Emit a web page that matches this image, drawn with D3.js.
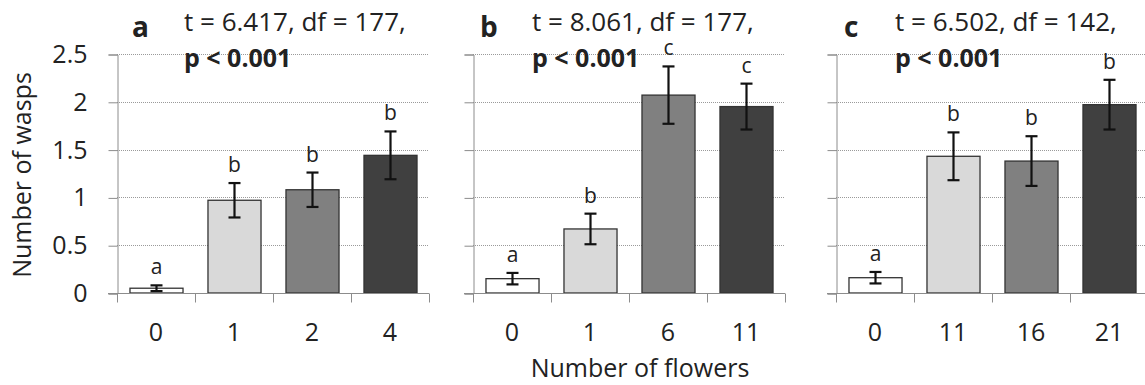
<!DOCTYPE html>
<html>
<head>
<meta charset="utf-8">
<script src="https://cdn.jsdelivr.net/npm/d3@7"></script>
<style>
body { margin: 0; background: #fff; }
text { font-family: "Open Sans", "Noto Sans", sans-serif; fill: #222; }
</style>
</head>
<body>
<script>
// data
var panelIds = ["a", "b", "c"];
var stats = ["t = 6.417, df = 177,", "t = 8.061, df = 177,", "t = 6.502, df = 142,"];
var categories = [
	["0", "1", "2", "4"],
	["0", "1", "6", "11"],
	["0", "11", "16", "21"]
];
var means = [
	[0.05, 0.97, 1.08, 1.44],
	[0.15, 0.67, 2.07, 1.95],
	[0.16, 1.43, 1.38, 1.97]
];
var errors = [
	[0.03, 0.18, 0.18, 0.25],
	[0.06, 0.16, 0.30, 0.24],
	[0.06, 0.25, 0.26, 0.26]
];
var letters = [
	["a", "b", "b", "b"],
	["a", "b", "c", "c"],
	["a", "b", "b", "b"]
];
var yTicks = [0, 0.5, 1, 1.5, 2, 2.5];
var barColors = ["#ffffff", "#d9d9d9", "#808080", "#404040"];

var width = 1145, height = 385;
var top0 = 54, bottom0 = 293;
var panelLeft = [117, 473, 836];
var panelW = 312;
var titleDx = [15, 7, 8];
var statsDx = [67, 59, 59];
var fs = "25px";

var svg = d3.select("body").append("svg")
	.attr("width", width)
	.attr("height", height);

var y = d3.scaleLinear().domain([0, 2.5]).range([bottom0, top0]);

panelIds.forEach(function(id, p) {
	var x0 = panelLeft[p];
	var x = d3.scaleBand()
		.domain(categories[p])
		.range([x0, x0 + panelW])
		.paddingInner(0.32)
		.paddingOuter(0.16);

	var g = svg.append("g");

	// dotted gridlines
	g.selectAll(".grid")
		.data(yTicks.slice(1))
		.enter().append("line")
		.attr("x1", x0).attr("x2", x0 + panelW)
		.attr("y1", function(d) { return Math.round(y(d)) + 0.5; })
		.attr("y2", function(d) { return Math.round(y(d)) + 0.5; })
		.attr("stroke", "#9a9a9a")
		.attr("stroke-width", 1)
		.attr("stroke-dasharray", "1,1");

	// y axis
	var yAxis = d3.axisLeft(y).tickValues(yTicks).tickSize(9).tickPadding(21)
		.tickFormat(p == 0 ? d3.format("") : "");
	var ya = g.append("g")
		.attr("transform", "translate(" + (x0 + 0.5) + ",0.5)")
		.call(yAxis);
	ya.selectAll("path, line").attr("stroke", "#8c8c8c");
	ya.selectAll("text").style("font-size", fs).attr("fill", "#222");

	// bars
	g.selectAll(".bar")
		.data(means[p])
		.enter().append("rect")
		.attr("x", function(d, i) { return x(categories[p][i]) + 0.5; })
		.attr("y", function(d) { return y(d); })
		.attr("width", x.bandwidth())
		.attr("height", function(d) { return bottom0 - y(d); })
		.attr("fill", function(d, i) { return barColors[i]; })
		.attr("stroke", "#333")
		.attr("stroke-width", 1.3);

	// x axis
	var xLin = d3.scaleLinear().domain([0, 4]).range([x0, x0 + panelW]);
	var xa = g.append("g")
		.attr("transform", "translate(0," + (bottom0 + 0.5) + ")");
	xa.append("line")
		.attr("x1", x0 - 9).attr("x2", x0 + panelW)
		.attr("stroke", "#8c8c8c");
	xa.selectAll(".xt")
		.data([0, 1, 2, 3, 4])
		.enter().append("line")
		.attr("x1", function(d) { return Math.round(xLin(d)) + 0.5; })
		.attr("x2", function(d) { return Math.round(xLin(d)) + 0.5; })
		.attr("y1", 0).attr("y2", 9)
		.attr("stroke", "#8c8c8c");
	xa.selectAll(".xl")
		.data(categories[p])
		.enter().append("text")
		.attr("x", function(d) { return x(d) + x.bandwidth() / 2; })
		.attr("y", 47)
		.attr("text-anchor", "middle")
		.style("font-size", fs)
		.text(function(d) { return d; });

	// error bars
	var eb = g.selectAll(".err")
		.data(means[p])
		.enter().append("g")
		.attr("transform", function(d, i) {
			return "translate(" + (x(categories[p][i]) + x.bandwidth() / 2 + 0.5) + ",0)";
		});
	eb.append("line")
		.attr("y1", function(d, i) { return y(d + errors[p][i]); })
		.attr("y2", function(d, i) { return y(d - errors[p][i]); })
		.attr("stroke", "#111").attr("stroke-width", 2.2);
	[1, -1].forEach(function(s) {
		eb.append("line")
			.attr("x1", -6).attr("x2", 6)
			.attr("y1", function(d, i) { return y(d + s * errors[p][i]); })
			.attr("y2", function(d, i) { return y(d + s * errors[p][i]); })
			.attr("stroke", "#111").attr("stroke-width", 2.2);
	});

	// significance letters
	eb.append("text")
		.attr("y", function(d, i) { return y(d + errors[p][i]) - 11; })
		.attr("text-anchor", "middle")
		.style("font-size", "21px")
		.attr("fill", "#333")
		.text(function(d, i) { return letters[p][i]; });

	// panel label and stats
	svg.append("text")
		.attr("x", x0 + titleDx[p])
		.attr("y", 37)
		.style("font-size", "28px")
		.style("font-weight", "bold")
		.attr("fill", "#111")
		.text(id);
	svg.append("text")
		.attr("x", x0 + statsDx[p])
		.attr("y", 31)
		.style("font-size", "26px")
		.text(stats[p]);
	svg.append("text")
		.attr("x", x0 + statsDx[p])
		.attr("y", 67)
		.style("font-size", "25px")
		.style("font-weight", "bold")
		.attr("fill", "#111")
		.text("p < 0.001");
});

// axis titles
svg.append("text")
	.attr("x", 640)
	.attr("y", 377)
	.attr("text-anchor", "middle")
	.style("font-size", fs)
	.text("Number of flowers");

svg.append("text")
	.attr("transform", "translate(31," + 175 + ") rotate(-90)")
	.attr("text-anchor", "middle")
	.style("font-size", fs)
	.text("Number of wasps");
</script>
</body>
</html>
